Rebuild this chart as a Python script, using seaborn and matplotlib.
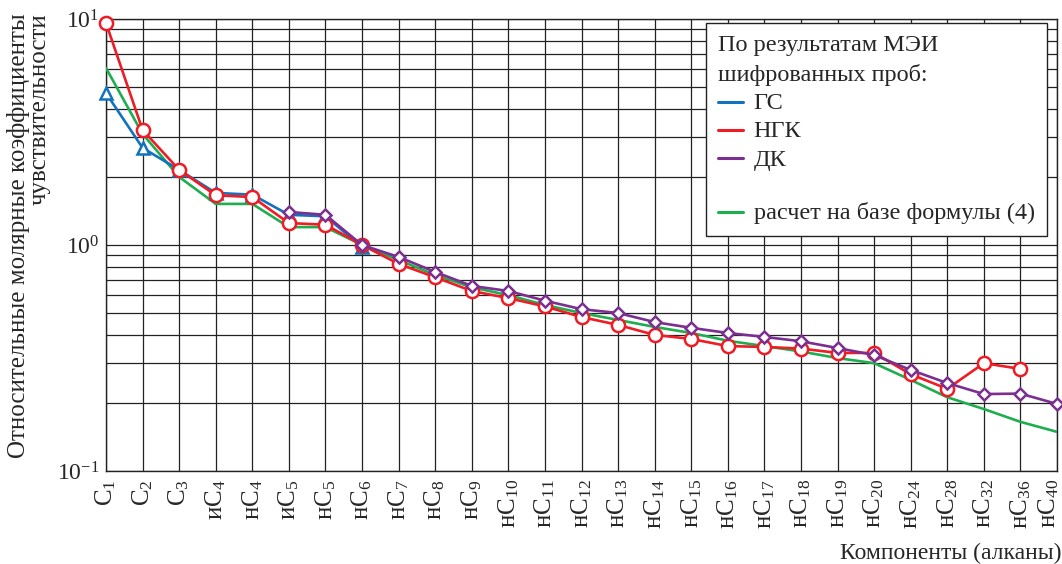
import numpy as np
import pandas as pd
import matplotlib
matplotlib.use("Agg")
import matplotlib.pyplot as plt
import matplotlib.transforms as mtransforms
from matplotlib.lines import Line2D
from matplotlib.ticker import LogLocator, NullFormatter
import seaborn as sns

# Components (alkanes) and their relative molar response factors
components = ["C1", "C2", "C3", "иC4", "нC4", "иC5", "нC5", "нC6", "нC7", "нC8",
              "нC9", "нC10", "нC11", "нC12", "нC13", "нC14", "нC15", "нC16",
              "нC17", "нC18", "нC19", "нC20", "нC24", "нC28", "нC32", "нC36", "нC40"]
tick_labels = ["C$_{1}$", "C$_{2}$", "C$_{3}$", "иC$_{4}$", "нC$_{4}$", "иC$_{5}$",
               "нC$_{5}$", "нC$_{6}$", "нC$_{7}$", "нC$_{8}$", "нC$_{9}$", "нC$_{10}$",
               "нC$_{11}$", "нC$_{12}$", "нC$_{13}$", "нC$_{14}$", "нC$_{15}$",
               "нC$_{16}$", "нC$_{17}$", "нC$_{18}$", "нC$_{19}$", "нC$_{20}$",
               "нC$_{24}$", "нC$_{28}$", "нC$_{32}$", "нC$_{36}$", "нC$_{40}$"]

nan = np.nan
gs = [4.7, 2.69, 2.15, 1.70, 1.67, 1.36, 1.34, 0.98] + [nan] * 19
ngk = [9.6, 3.23, 2.15, 1.66, 1.63, 1.25, 1.23, 1.0, 0.825, 0.72, 0.626, 0.582,
       0.535, 0.48, 0.443, 0.40, 0.384, 0.357, 0.354, 0.348, 0.333, 0.333,
       0.268, 0.231, 0.30, 0.283, nan]
dk = [nan] * 5 + [1.40, 1.36, 1.0, 0.885, 0.76, 0.659, 0.626, 0.567, 0.52, 0.50,
                  0.456, 0.43, 0.408, 0.392, 0.375, 0.35, 0.326, 0.28, 0.245,
                  0.219, 0.22, 0.198]
calc = [6.07, 3.1, 2.0, 1.52, 1.52, 1.2, 1.2, 1.0, 0.858, 0.737, 0.65, 0.60,
        0.543, 0.50, 0.466, 0.434, 0.408, 0.377, 0.357, 0.338, 0.316, 0.30,
        0.253, 0.212, 0.188, 0.165, 0.149]

sns.set_theme(style="white")
plt.rcParams["font.family"] = ["Liberation Serif", "DejaVu Serif"]
plt.rcParams["mathtext.fontset"] = "custom"
plt.rcParams["mathtext.rm"] = "Liberation Serif"
plt.rcParams["mathtext.it"] = "Liberation Serif"

c_blue, c_red, c_purple, c_green = "#1272bd", "#ee1c25", "#7b2f90", "#1fae4f"

df = pd.DataFrame({"x": np.arange(len(components)), "ГС": gs, "НГК": ngk,
                   "ДК": dk, "calc": calc})

fig = plt.figure(figsize=(10.62, 5.64), dpi=100)
ax = fig.add_axes([106 / 1062, 1 - 471 / 564, 951 / 1062, 452 / 564])

lw = 1.9
sns.lineplot(data=df, x="x", y="calc", color=c_green, lw=lw, ax=ax, zorder=3)
sns.lineplot(data=df, x="x", y="ГС", color=c_blue, lw=lw, marker="^", ms=9,
             mfc="white", mec=c_blue, mew=1.8, ax=ax, zorder=4, clip_on=False)
sns.lineplot(data=df, x="x", y="НГК", color=c_red, lw=lw, marker="o", ms=9.5,
             mfc="white", mec=c_red, mew=1.8, ax=ax, zorder=5, clip_on=False)
sns.lineplot(data=df, x="x", y="ДК", color=c_purple, lw=lw, marker="D", ms=6.5,
             mfc="white", mec=c_purple, mew=1.8, ax=ax, zorder=6, clip_on=False)

ax.set_yscale("log")
ax.set_ylim(0.1, 10)
ax.set_xlim(0, len(components) - 1)
ax.yaxis.set_major_locator(LogLocator(base=10, numticks=10))
ax.yaxis.set_minor_locator(LogLocator(base=10, subs=np.arange(2, 10), numticks=20))
ax.yaxis.set_minor_formatter(NullFormatter())
ax.set_xticks(df["x"])
ax.set_xticklabels(tick_labels, rotation=90, fontsize=18, va="top", ha="center")
ax.tick_params(axis="both", length=0)
ax.tick_params(axis="y", labelsize=17, pad=5)
ax.tick_params(axis="x", pad=6)
# keep the last (rightmost) component label inside the figure
last = ax.get_xticklabels()[-1]
last.set_ha("right")
last.set_transform(last.get_transform() +
                   mtransforms.ScaledTranslation(4 / 100, 0, fig.dpi_scale_trans))

ax.grid(True, which="major", axis="both", color="#222222", lw=0.9)
ax.grid(True, which="minor", axis="y", color="#222222", lw=0.9)
ax.set_axisbelow(True)
for s in ax.spines.values():
    s.set_color("#222222")
    s.set_linewidth(1.0)

ax.set_xlabel("Компоненты (алканы)", fontsize=17)
ax.xaxis.set_label_coords(1.005, -0.158)
ax.xaxis.label.set_ha("right")
ax.set_ylabel("Относительные молярные коэффициенты\nчувствительности",
              fontsize=18, multialignment="right", linespacing=0.95)
ax.yaxis.set_label_coords(-0.058, 0.52)

handles = [Line2D([], [], color=c_blue, lw=2.2),
           Line2D([], [], color=c_red, lw=2.2),
           Line2D([], [], color=c_purple, lw=2.2),
           Line2D([], [], color="none", lw=0),
           Line2D([], [], color=c_green, lw=2.2)]
labels = ["ГС", "НГК", "ДК", " ", "расчет на базе формулы (4)"]
leg = ax.legend(handles, labels, title="По результатам МЭИ\nшифрованных проб:",
                loc="upper right", bbox_to_anchor=(0.9895, 0.991), fontsize=17.5,
                title_fontsize=17.5, alignment="left", frameon=True, fancybox=False,
                edgecolor="#222222", framealpha=1, handlelength=1.0,
                handleheight=0.4, handletextpad=0.45, labelspacing=0.3,
                borderpad=0.5, borderaxespad=0)
leg.get_texts()[3].set_fontsize(6)
leg.get_title().set_linespacing(1.45)
leg.get_frame().set_linewidth(1.0)
leg.set_zorder(10)

fig.savefig("out.png", dpi=100)
